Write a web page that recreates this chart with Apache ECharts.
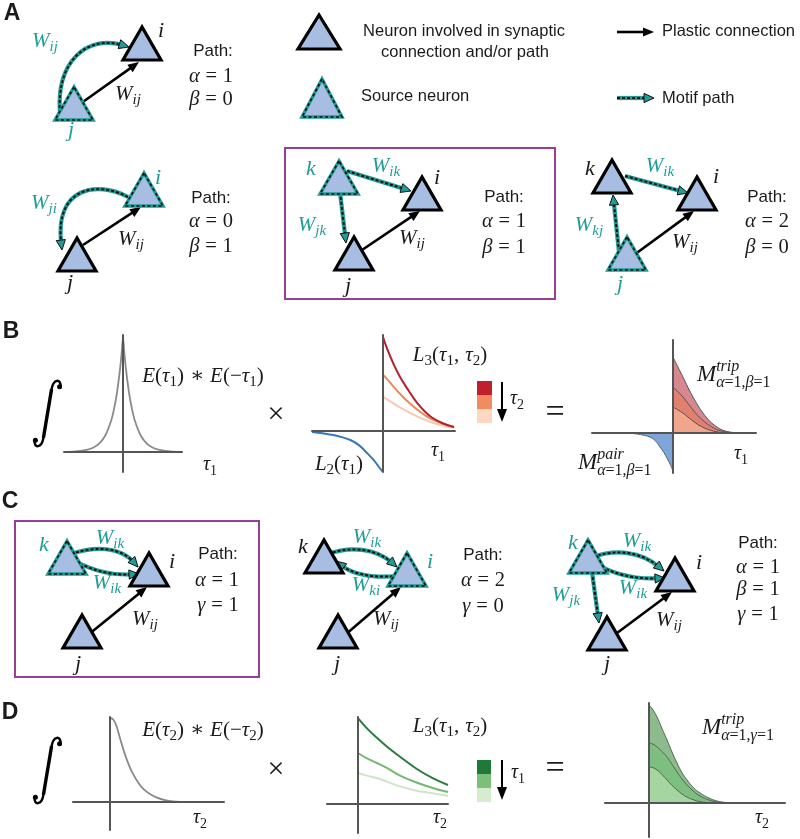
<!DOCTYPE html>
<html><head><meta charset="utf-8">
<script src="https://cdn.jsdelivr.net/npm/echarts@6/dist/echarts.min.js"></script>
<style>html,body{margin:0;padding:0;background:#fff}#c{width:800px;height:839px}</style>
</head><body><div id="c"></div>
<script>
// ---------------- DATA ----------------
// Panel B, left: E(tau1)*E(-tau1)
const tauE1 = [-1,-0.8,-0.6,-0.5,-0.4,-0.3,-0.2,-0.15,-0.1,-0.05,-0.02,0,0.02,0.05,0.1,0.15,0.2,0.3,0.4,0.5,0.6,0.8,1];
const valE1 = [0.002,0.006,0.021,0.04,0.076,0.144,0.275,0.38,0.525,0.724,0.88,1,0.88,0.724,0.525,0.38,0.275,0.144,0.076,0.04,0.021,0.006,0.002];
// Panel B, middle: L3 for three tau2 values, and L2
const tauL3B = [0,0.06,0.15,0.24,0.36,0.48,0.6,0.7,0.85,1.0];
const l3BDark = [1.0,0.87,0.71,0.574,0.43,0.298,0.2,0.138,0.08,0.043];
const l3BMid = [0.6,0.55,0.47,0.395,0.305,0.228,0.163,0.12,0.073,0.04];
const l3BLight = [0.362,0.335,0.292,0.25,0.2,0.155,0.115,0.088,0.056,0.032];
const tauL2 = [-1,-0.85,-0.7,-0.58,-0.46,-0.34,-0.225,-0.13,-0.06,-0.01];
const valL2 = [-0.01,-0.025,-0.043,-0.065,-0.096,-0.15,-0.234,-0.31,-0.38,-0.43];
// Panel B, right: M trip (three tau2 values) and M pair
const tauMB = [0,0.06,0.123,0.185,0.247,0.31,0.37,0.45,0.543,0.62,0.70,0.8,0.91,1.0];
const mTripBOuter = [1.0,0.87,0.737,0.6,0.474,0.36,0.263,0.16,0.079,0.035,0.013,0.004,0,0];
const mTripBMid = [0.605,0.545,0.474,0.39,0.303,0.225,0.165,0.1,0.045,0.02,0.008,0.002,0,0];
const mTripBInner = [0.342,0.305,0.263,0.21,0.158,0.11,0.075,0.04,0.015,0.005,0,0,0,0];
const tauPair = [-0.75,-0.69,-0.58,-0.49,-0.4,-0.284,-0.22,-0.16,-0.11,-0.074,-0.035,0];
const mPair = [0,0,-0.002,-0.007,-0.02,-0.053,-0.1,-0.184,-0.26,-0.329,-0.41,-0.5];
// Panel D, left: E(tau2)*E(-tau2)
const tauE2 = [0,0.03,0.06,0.1,0.14,0.17,0.2,0.23,0.28,0.33,0.4,0.47,0.55,0.63,0.77];
const valE2 = [1.0,0.985,0.92,0.76,0.6,0.5,0.41,0.335,0.235,0.16,0.095,0.052,0.022,0.007,0];
// Panel D, middle: L3 for three tau1 values
const tauL3D = [0,0.1,0.21,0.32,0.467,0.65,0.83,1.0];
const l3DDark = [1,0.88,0.77,0.67,0.55,0.41,0.3,0.221];
const l3DMid = [0.593,0.53,0.477,0.42,0.33,0.25,0.186,0.14];
const l3DLight = [0.36,0.33,0.302,0.26,0.205,0.155,0.125,0.093];
// Panel D, right: M trip (three tau1 values)
const tauMD = [0,0.04,0.08,0.13,0.18,0.23,0.28,0.33,0.38,0.45,0.51,0.6,0.68,0.76,0.84,1.0];
const mTripDOuter = [1,0.95,0.878,0.76,0.643,0.52,0.408,0.31,0.235,0.15,0.102,0.05,0.02,0.006,0,0];
const mTripDMid = [0.612,0.6,0.571,0.525,0.469,0.395,0.316,0.245,0.184,0.115,0.071,0.03,0.01,0.003,0,0];
const mTripDInner = [0.367,0.36,0.337,0.29,0.235,0.18,0.133,0.09,0.06,0.03,0.014,0.004,0,0,0,0];

// ---------------- LAYOUT / STYLE ----------------
const TEAL = '#1f9d96';
const NFILL = '#a7bde2';
const PURPLE = '#9c3d95';
const INK = '#1a1a1a';
const SERIF = '"Liberation Serif","DejaVu Serif",serif';
const SANS = '"Liberation Sans",Arial,sans-serif';

const G = []; let Z = 0;
function add(el){ el.z = 50; el.z2 = Z++; el.silent = true; G.push(el); return el; }
const mctx = document.createElement('canvas').getContext('2d');
function tw(t,f){ mctx.font = f; return mctx.measureText(t).width; }
function sf(sz,it){ return (it ? 'italic ' : '') + sz + 'px ' + SERIF; }
function txt(t, x, y, font, color, align){
  add({type:'text', x:x, y:y, style:{text:t, font:font, fill:color||INK, align:align||'center', verticalAlign:'middle', textAlign:align||'center', textVerticalAlign:'middle'}});
}
function isIt(c){ return /[A-Za-z\u03b1-\u03c9]/.test(c); }
function parseM(s){
  const out=[]; let i=0;
  while(i<s.length){
    const c=s[i];
    if((c==='_'||c==='^') && s[i+1]==='{'){
      const j=s.indexOf('}',i); const content=s.slice(i+2,j);
      const key = c==='_' ? 'sub' : 'sup';
      const last=out[out.length-1];
      if(last && last.scr && last[key]==null) last[key]=content;
      else { const g={scr:true, sub:null, sup:null}; g[key]=content; out.push(g); }
      i=j+1;
    } else { out.push({ch:c}); i++; }
  }
  return out;
}
function layoutRuns(text, x0, sz, dy, runs){
  let cur='', curIt=null, x=x0;
  const flush=()=>{ if(cur){ const f=sf(sz,curIt); runs.push({t:cur,x:x,f:f,dy:dy}); x+=tw(cur,f); cur=''; } };
  for(const c of text){
    if(c===' '){ flush(); x+=sz*0.28; continue; }
    const it=isIt(c);
    if(curIt!==null && it!==curIt) flush();
    curIt=it; cur+=c;
  }
  flush();
  return x;
}
function math(s, cx, cy, color, size, align){
  const runs=[]; let x=0; const ss=Math.round(size*0.7);
  let base='';
  for(const g of parseM(s)){
    if(g.ch!==undefined){ base+=g.ch; continue; }
    if(base){ x=layoutRuns(base,x,size,0,runs); base=''; }
    const both = g.sub!=null && g.sup!=null;
    let w=0;
    if(g.sup!=null) w=Math.max(w, layoutRuns(g.sup,x,ss,both?-0.36*size:-0.32*size,runs)-x);
    if(g.sub!=null) w=Math.max(w, layoutRuns(g.sub,x,ss,both?0.36*size:0.3*size,runs)-x);
    x+=w;
  }
  if(base) x=layoutRuns(base,x,size,0,runs);
  const x0 = align==='left' ? cx : (align==='right' ? cx-x : cx-x/2);
  runs.forEach(r=>txt(r.t, x0+r.x, cy+r.dy, r.f, color||INK, 'left'));
}
function sans(t,x,y,size,align){ txt(t,x,y,size+'px '+SANS,INK,align||'center'); }

function tri(ax, ay, src, w, h){
  w=w||38; h=h||33;
  const pts=[[ax,ay],[ax-w/2,ay+h],[ax+w/2,ay+h]];
  if(!src){
    add({type:'polygon', shape:{points:pts}, style:{fill:NFILL, stroke:'#000', lineWidth:3.2, lineJoin:'miter'}});
  } else {
    add({type:'polygon', shape:{points:pts}, style:{fill:NFILL, stroke:TEAL, lineWidth:3.4, lineJoin:'miter'}});
    add({type:'polygon', shape:{points:pts}, style:{fill:'none', stroke:'#111', lineWidth:1.7, lineDash:[3,2.5]}});
  }
}
function head(tx,ty,dx,dy,L,W,fill,stroke){
  const n=Math.hypot(dx,dy); dx/=n; dy/=n;
  const bx=tx-dx*L, by=ty-dy*L;
  add({type:'polygon', shape:{points:[[tx,ty],[bx-dy*W,by+dx*W],[bx+dy*W,by-dx*W]]},
       style:{fill:fill, stroke:stroke||'none', lineWidth:stroke?1:0}});
}
function plastic(x1,y1,x2,y2){
  const dx=x2-x1, dy=y2-y1, n=Math.hypot(dx,dy), L=11;
  add({type:'line', shape:{x1:x1,y1:y1,x2:x2-dx/n*L*0.6,y2:y2-dy/n*L*0.6}, style:{stroke:'#000', lineWidth:2.6}});
  head(x2,y2,dx,dy,L,4.6,'#000');
}
function motifLine(x1,y1,x2,y2){
  const dx=x2-x1, dy=y2-y1, n=Math.hypot(dx,dy), L=10;
  const sh={x1:x1,y1:y1,x2:x2-dx/n*L*0.6,y2:y2-dy/n*L*0.6};
  add({type:'line', shape:sh, style:{stroke:TEAL, lineWidth:4.2}});
  add({type:'line', shape:Object.assign({},sh), style:{stroke:'#111', lineWidth:2, lineDash:[3,2]}});
  head(x2,y2,dx,dy,L,4.6,TEAL,'#111');
}
function motifCurve(p0,p1,p2,p3){
  const dx=p3[0]-p2[0], dy=p3[1]-p2[1], n=Math.hypot(dx,dy), L=10, s=L*0.6;
  const sh={x1:p0[0],y1:p0[1],cpx1:p1[0],cpy1:p1[1],cpx2:p2[0]-dx/n*s,cpy2:p2[1]-dy/n*s,x2:p3[0]-dx/n*s,y2:p3[1]-dy/n*s};
  add({type:'bezierCurve', shape:sh, style:{stroke:TEAL, lineWidth:4.2, fill:'none'}});
  add({type:'bezierCurve', shape:Object.assign({},sh), style:{stroke:'#111', lineWidth:2, lineDash:[3,2], fill:'none'}});
  head(p3[0],p3[1],dx,dy,L,4.6,TEAL,'#111');
}
function box(x1,y1,x2,y2){
  add({type:'rect', shape:{x:x1,y:y1,width:x2-x1,height:y2-y1}, style:{fill:'none', stroke:PURPLE, lineWidth:2}});
}
function integral(x,y){
  add({type:'bezierCurve', shape:{x1:x+27.5,y1:y+6.5,cpx1:x+28,cpy1:y-1.5,cpx2:x+20.5,cpy2:y-1.5,x2:x+18.6,y2:y+9}, style:{stroke:'#000', lineWidth:2.4, fill:'none'}});
  add({type:'line', shape:{x1:x+18.6,y1:y+9,x2:x+10.4,y2:y+58}, style:{stroke:'#000', lineWidth:3.4}});
  add({type:'bezierCurve', shape:{x1:x+10.4,y1:y+58,cpx1:x+8.5,cpy1:y+68.5,cpx2:x+1,cpy2:y+68.5,x2:x+1.5,y2:y+60.5}, style:{stroke:'#000', lineWidth:2.4, fill:'none'}});
  add({type:'circle', shape:{cx:x+26.6,cy:y+6.8,r:2.5}, style:{fill:'#000'}});
  add({type:'circle', shape:{cx:x+2.4,cy:y+60.2,r:2.5}, style:{fill:'#000'}});
}
function downArrow(x,y1,y2){
  add({type:'line', shape:{x1:x,y1:y1,x2:x,y2:y2-8}, style:{stroke:'#000', lineWidth:2}});
  head(x,y2,0,1,13,5,'#000');
}
function swatch(x,y,w,h,c){ add({type:'rect', shape:{x:x,y:y,width:w,height:h}, style:{fill:c}}); }

const WS = 21, NS = 22, PS = 20.5, FS = 21, TS = 20, MS = 23, LS = 16.5;

// ---------------- PANEL A ----------------
txt('A', 12, 14, 'bold 23px '+SANS, INK);
// A1
motifCurve([60,113],[56,62],[92,36],[129,47]);
plastic(80,104,139,62);
tri(142,27,false); tri(74,87,true);
math('W_{ij}',45,41,TEAL,WS); math('i',161,31,INK,NS); math('j',71,130,TEAL,NS);
math('W_{ij}',128,94,INK,WS);
sans('Path:',213,51,17); math('α = 1',211,77,INK,PS); math('β = 0',211,100,INK,PS);
// legend
tri(319,15,false,42,34); tri(322,79,true,40,38);
sans('Neuron involved in synaptic',464,31,LS); sans('connection and/or path',465,52,LS);
sans('Source neuron',361,96,LS,'left');
plastic(617,32,654,32); sans('Plastic connection',662,31,LS,'left');
motifLine(617,98,654,98); sans('Motif path',662,98,LS,'left');
// A2
motifCurve([128,197],[98,181],[55,192],[62,250]);
plastic(83,245,141,207);
tri(77,238,false); tri(144,173,true);
math('W_{ji}',44,203,TEAL,WS); math('i',158,178,TEAL,NS); math('j',70,283,INK,NS);
math('W_{ij}',131,239,INK,WS);
sans('Path:',211,198,17); math('α = 0',211,222,INK,PS); math('β = 1',211,247,INK,PS);
// A3 (boxed)
box(285,148,555,299);
motifLine(347,171,411,191); motifLine(340,192,346,243);
plastic(362,250,420,211);
tri(339,161,true); tri(422,177,false); tri(354,237,false);
math('k',311,169,TEAL,NS); math('W_{ik}',386,166,TEAL,WS); math('W_{jk}',312,225,TEAL,WS);
math('i',437,178,INK,NS); math('j',348,286,INK,NS); math('W_{ij}',412,238,INK,WS);
sans('Path:',504,197,17); math('α = 1',504,222,INK,PS); math('β = 1',504,248,INK,PS);
// A4
motifLine(625,176,688,193); motifLine(619,252,613,195);
plastic(634,255,694,211);
tri(612,160,false); tri(697,177,false); tri(627,237,true);
math('k',590,169,INK,NS); math('W_{ik}',660,166,TEAL,WS); math('i',716,177,INK,NS);
math('W_{kj}',589,225,TEAL,WS); math('j',620,284,TEAL,NS); math('W_{ij}',685,242,INK,WS);
sans('Path:',767,197,17); math('α = 2',767,222,INK,PS); math('β = 0',767,248,INK,PS);

// ---------------- PANEL B ----------------
txt('B', 11, 332, 'bold 23px '+SANS, INK);
integral(33,380);
math('E(τ_{1}) ∗ E(−τ_{1})',203,376,INK,FS);
math('τ_{1}',210,465,INK,TS);
txt('×',276,415,'30px '+SERIF,INK);
math('L_{3}(τ_{1}, τ_{2})',450,355,INK,FS);
math('L_{2}(τ_{1})',339,464,INK,FS);
math('τ_{1}',438,451,INK,TS);
swatch(477,381,15,14,'#c0202e'); swatch(477,395,15,14,'#f08c60'); swatch(477,409,15,14,'#fbd7c4');
downArrow(502,382,422);
math('τ_{2}',517,399,INK,TS);
txt('=',555,413,'34px '+SERIF,INK);
math('M^{trip}_{α=1,β=1}',697,375,INK,MS,'left');
math('M^{pair}_{α=1,β=1}',578,463,INK,MS,'left');
math('τ_{1}',741,454,INK,TS);

// ---------------- PANEL C ----------------
txt('C', 10, 502, 'bold 23px '+SANS, INK);
box(15,521,259,677);
// C1
motifCurve([71,554],[95,546],[124,551],[138,567]);
motifCurve([71,559],[96,573],[121,575],[139,574]);
plastic(88,635,147,587);
tri(67,541,true); tri(149,553,false); tri(82,615,false);
math('k',44,545,TEAL,NS); math('W_{ik}',110,538,TEAL,WS); math('W_{ik}',107,583,TEAL,WS);
math('i',172,562,INK,NS); math('j',78,664,INK,NS); math('W_{ij}',145,619,INK,WS);
sans('Path:',218,554,17); math('α = 1',217,581,INK,PS); math('γ = 1',218,606,INK,PS);
// C2
motifCurve([328,554],[350,546],[380,552],[397,567]);
motifCurve([408,575],[385,578],[352,574],[336,561]);
plastic(345,635,401,587);
tri(324,540,false); tri(407,553,true); tri(338,615,false);
math('k',303,547,INK,NS); math('W_{ik}',367,537,TEAL,WS); math('W_{ki}',366,585,TEAL,WS);
math('i',430,562,TEAL,NS); math('j',337,664,INK,NS); math('W_{ij}',386,619,INK,WS);
sans('Path:',483,555,17); math('α = 2',483,581,INK,PS); math('γ = 0',483,607,INK,PS);
// C3
motifCurve([593,557],[615,549],[645,555],[664,571]);
motifCurve([593,562],[615,576],[645,579],[665,578]);
motifLine(592,572,599,623);
plastic(613,636,672,592);
tri(588,540,true); tri(675,558,false); tri(607,617,false);
math('k',573,543,TEAL,NS); math('W_{ik}',637,541,TEAL,WS); math('W_{ik}',633,588,TEAL,WS);
math('i',699,563,INK,NS); math('W_{jk}',566,595,TEAL,WS); math('j',607,664,INK,NS);
math('W_{ij}',669,620,INK,WS);
sans('Path:',758,543,17); math('α = 1',758,568,INK,PS); math('β = 1',758,590,INK,PS); math('γ = 1',758,615,INK,PS);

// ---------------- PANEL D ----------------
txt('D', 10, 713, 'bold 23px '+SANS, INK);
integral(33,737);
math('E(τ_{2}) ∗ E(−τ_{2})',203,730,INK,FS);
math('τ_{2}',200,818,INK,TS);
txt('×',276,770,'30px '+SERIF,INK);
math('L_{3}(τ_{1}, τ_{2})',450,726,INK,FS);
math('τ_{2}',440,818,INK,TS);
swatch(477,760,14,14,'#1f7a37'); swatch(477,774,14,14,'#7cbf79'); swatch(477,788,14,14,'#d5eccf');
downArrow(502,760,800);
math('τ_{1}',518,773,INK,TS);
txt('=',555,769,'34px '+SERIF,INK);
math('M^{trip}_{α=1,γ=1}',702,728,INK,MS,'left');
math('τ_{2}',762,818,INK,TS);

// ---------------- PLOTS (grids / axes / series) ----------------
const plotBoxes = [
  {l:64,  t:335, w:118, h:137, x:[-1,1],        y:[-0.174,1.02]},
  {l:312, t:335, w:143, h:137, x:[-1,1.014],    y:[-0.436,1.021]},
  {l:592, t:340, w:164, h:133, x:[-1,1.025],    y:[-0.526,1.224]},
  {l:73,  t:717, w:151, h:113, x:[-0.37,1.14],  y:[-0.333,1.012]},
  {l:327, t:717, w:121, h:116, x:[-0.344,1.0],  y:[-0.337,1.012]},
  {l:605, t:703, w:180, h:134, x:[-0.44,1.36],  y:[-0.347,1.02]}
];
const grids=[], xAxes=[], yAxes=[];
plotBoxes.forEach((b,i)=>{
  grids.push({left:b.l, top:b.t, width:b.w, height:b.h, containLabel:false, show:false});
  const ax = (mm)=>({type:'value', gridIndex:i, min:mm[0], max:mm[1], z:5,
    axisLine:{show:true, onZero:true, lineStyle:{color:'#555', width:2}},
    axisTick:{show:false}, axisLabel:{show:false}, splitLine:{show:false}});
  xAxes.push(ax(b.x)); yAxes.push(ax(b.y));
});
const xy = (xs,ys)=>xs.map((x,i)=>[x,ys[i]]);
function ser(gi, xs, ys, color, width, fill, smooth){
  const s = {type:'line', xAxisIndex:gi, yAxisIndex:gi, data:xy(xs,ys), symbol:'none', showSymbol:false,
    smooth: smooth==null?0.4:smooth, lineStyle:{color:color, width:width}, silent:true, animation:false};
  if(fill) s.areaStyle = {color:fill, opacity:1};
  return s;
}
const series = [
  ser(0, tauE1, valE1, '#8a8a8a', 1.8, null, 0.3),
  ser(1, tauL3B, l3BLight, '#f8c8b0', 2),
  ser(1, tauL3B, l3BMid, '#ea895e', 2),
  ser(1, tauL3B, l3BDark, '#b3202e', 2),
  ser(1, tauL2, valL2, '#3a78b5', 2),
  ser(2, tauMB, mTripBOuter, '#555', 1, '#d6878f'),
  ser(2, tauMB, mTripBMid, '#555', 1, '#e2806e'),
  ser(2, tauMB, mTripBInner, '#555', 1, '#f1a58d'),
  ser(2, tauPair, mPair, '#4a5f80', 1, '#7fa6d8'),
  ser(3, tauE2, valE2, '#8a8a8a', 1.8),
  ser(4, tauL3D, l3DLight, '#cfe5c9', 2),
  ser(4, tauL3D, l3DMid, '#74b872', 2),
  ser(4, tauL3D, l3DDark, '#2b7a3e', 2),
  ser(5, tauMD, mTripDOuter, '#4f6b4f', 1, '#8dbb8e'),
  ser(5, tauMD, mTripDMid, '#4f6b4f', 1, '#7dbf80'),
  ser(5, tauMD, mTripDInner, '#4f6b4f', 1, '#a5d5a1')
];

const chart = echarts.init(document.getElementById('c'), null, {renderer:'canvas'});
chart.setOption({
  animation:false,
  backgroundColor:'#ffffff',
  grid:grids, xAxis:xAxes, yAxis:yAxes, series:series,
  graphic:{elements:G}
});
</script></body></html>
